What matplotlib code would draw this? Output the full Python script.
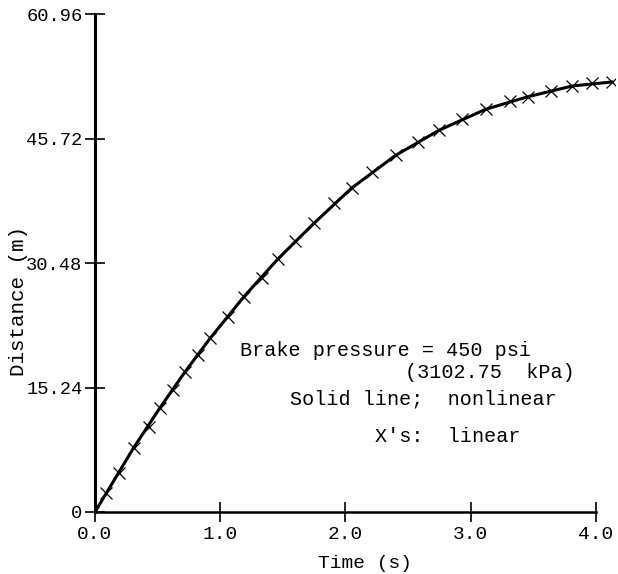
import matplotlib
matplotlib.use('Agg')
import matplotlib.pyplot as plt

# stopping distance vs time
time_x = [0.09, 0.19, 0.31, 0.43, 0.52, 0.62, 0.72, 0.82, 0.92, 1.06, 1.19, 1.33, 1.46, 1.60,
          1.75, 1.91, 2.05, 2.21, 2.40, 2.58, 2.75, 2.93, 3.12, 3.31, 3.46, 3.64, 3.81, 3.97, 4.13]
dist_x = [2.3, 4.8, 7.9, 10.4, 12.8, 15.0, 17.2, 19.2, 21.3, 23.9, 26.4, 28.7, 31.0, 33.2,
          35.4, 37.9, 39.7, 41.7, 43.7, 45.3, 46.8, 48.1, 49.35, 50.4, 50.9, 51.6, 52.2, 52.6, 52.7]
time_line = [0.0, 0.09, 0.31, 0.52, 0.72, 0.92, 1.19, 1.46, 1.75, 2.05, 2.40, 2.75, 3.12, 3.46, 3.81, 4.13]
dist_line = [0.0, 2.3, 7.9, 12.8, 17.2, 21.3, 26.4, 31.0, 35.4, 39.7, 43.7, 46.8, 49.35, 50.9, 52.2, 52.7]

xticks = [0.0, 1.0, 2.0, 3.0, 4.0]
xlabels = ['0.0', '1.0', '2.0', '3.0', '4.0']
yticks = [0, 15.24, 30.48, 45.72, 60.96]
ylabels = ['0', '15.24', '30.48', '45.72', '60.96']

plt.rcParams['font.family'] = ['Liberation Mono', 'DejaVu Sans Mono']
W, H = 618, 574
fig = plt.figure(figsize=(W / 100, H / 100), dpi=100)
ax = fig.add_axes([95 / W, (H - 512) / H, 519.75 / W, 497.5 / H])

ax.plot(time_line, dist_line, color='black', lw=2.2, solid_capstyle='round')
ax.plot(time_x, dist_x, ls='none', marker='x', ms=8, mew=0.9, color='black')

ax.set_xlim(0, 4.15)
ax.set_ylim(0, 60.96)
for s in ['top', 'right']:
    ax.spines[s].set_visible(False)
ax.spines['left'].set_linewidth(2.2)
ax.spines['bottom'].set_linewidth(1.8)
ax.spines['bottom'].set_bounds(0, 4.0)

ax.set_xticks(xticks)
ax.set_xticklabels(xlabels)
ax.set_yticks(yticks)
ax.set_yticklabels(ylabels)
ax.tick_params(direction='inout', length=14, width=1.2, labelsize=13.5, colors='black')
ax.tick_params(axis='x', pad=3, labelsize=14)
ax.tick_params(axis='y', pad=2)

fig.text(19 / W, 1 - 301 / H, 'Distance (m)', rotation=90, ha='center', va='center', fontsize=15)
fig.text(365 / W, 1 - 564 / H, 'Time (s)', ha='center', va='center', fontsize=14)

fig.text(240 / W, 1 - 350 / H, 'Brake pressure = 450 psi', ha='left', va='center', fontsize=14.5)
fig.text(405 / W, 1 - 373 / H, '(3102.75  kPa)', ha='left', va='center', fontsize=14.5)
fig.text(290 / W, 1 - 399 / H, 'Solid line;  nonlinear', ha='left', va='center', fontsize=14.5)
fig.text(375 / W, 1 - 436 / H, "X's:  linear", ha='left', va='center', fontsize=14.5)

fig.savefig('out.png', dpi=100)
